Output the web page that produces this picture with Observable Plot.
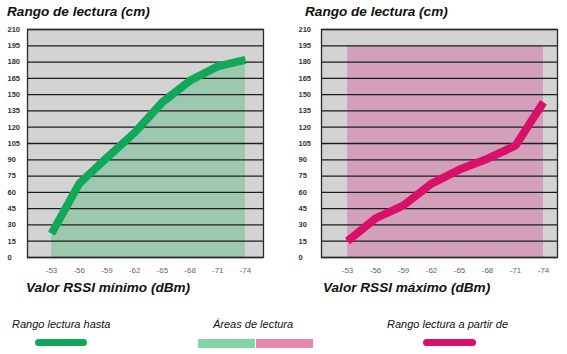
<!DOCTYPE html>
<html>
<head>
<meta charset="utf-8">
<script src="https://cdn.jsdelivr.net/npm/d3@7"></script>
<script src="https://cdn.jsdelivr.net/npm/@observablehq/plot@0.6"></script>
<style>
  body { margin: 0; background: #fff; font-family: "Liberation Sans", Arial, sans-serif; }
  #wrap { position: relative; width: 567px; height: 354px; overflow: hidden; }
  .abs { position: absolute; white-space: nowrap; }
  .title { font-size: 13.6px; font-weight: bold; font-style: italic; color: #111; line-height: 14px; }
  .leg { font-size: 11px; font-style: italic; color: #111; line-height: 12px; }
</style>
</head>
<body>
<div id="wrap">
  <div id="left" class="abs" style="left:0;top:0;"></div>
  <div id="right" class="abs" style="left:280px;top:0;"></div>
  <div class="abs title" style="left:7px;top:5px;">Rango de lectura (cm)</div>
  <div class="abs title" style="left:305px;top:5px;">Rango de lectura (cm)</div>
  <div class="abs title" style="left:26px;top:281px;">Valor RSSI mínimo (dBm)</div>
  <div class="abs title" style="left:323px;top:281px;">Valor RSSI máximo (dBm)</div>
  <div class="abs leg" style="left:12px;top:318px;">Rango lectura hasta</div>
  <div class="abs leg" style="left:213px;top:318px;">Áreas de lectura</div>
  <div class="abs leg" style="left:387px;top:318px;">Rango lectura a partir de</div>
  <div class="abs" style="left:35px;top:339px;width:52px;height:7px;border-radius:4px;background:#12a85a;"></div>
  <div class="abs" style="left:198px;top:339px;width:57px;height:9px;background:#80d6a9;"></div>
  <div class="abs" style="left:256px;top:339px;width:57px;height:9px;background:#ea86b0;"></div>
  <div class="abs" style="left:423px;top:339px;width:53px;height:7px;border-radius:4px;background:#d8106a;"></div>
</div>
<script>
// ---- data ----
const rssiMin = [-53, -56, -59, -62, -65, -68, -71, -74];
const rangeUpTo = [22, 68, 92, 115, 143, 163, 176, 182];
const rssiMax = [-53, -56, -59, -62, -65, -68, -71, -74];
const rangeFrom = [15, 36, 48, 68, 81, 91, 103, 143];
const areaTopMax = 195;
const yTicks = [0, 15, 30, 45, 60, 75, 90, 105, 120, 135, 150, 165, 180, 195, 210];
const xTickLabels = [-53, -56, -59, -62, -65, -68, -71, -74];

const minData = rssiMin.map((x, i) => ({x, y: rangeUpTo[i]}));
const maxData = rssiMax.map((x, i) => ({x, y: rangeFrom[i]}));
const rectData = [{x1: rssiMax[0], x2: rssiMax[rssiMax.length - 1], y: areaTopMax}];

const font = '"Liberation Sans", Arial, sans-serif';

function chart({width, marginLeft, marginRight, xDomain, areaMarks, lineData, lineColor, labelDx}) {
  return Plot.plot({
    width, height: 280,
    marginLeft, marginRight, marginTop: 29, marginBottom: 23,
    style: {fontFamily: font, background: "transparent", overflow: "visible"},
    x: {domain: xDomain, reverse: true, axis: null},
    y: {domain: [0, 210], axis: null},
    marks: [
      Plot.frame({fill: "#d3d3d3", stroke: null}),
      ...areaMarks,
      Plot.ruleY(yTicks, {stroke: "#1e1e1e", strokeWidth: 1.3}),
      Plot.frame({stroke: "#2a2a2a", strokeWidth: 1.3}),
      Plot.line(lineData, {x: "x", y: "y", stroke: lineColor, strokeWidth: 8, strokeLinecap: "butt", strokeLinejoin: "round"}),
      Plot.text(yTicks, {y: d => d, frameAnchor: "left", dx: labelDx, textAnchor: "start", fontSize: 7.5, fill: "#333", fontWeight: "bold"}),
      Plot.axisX(xTickLabels, {tickSize: 0, tickPadding: 10, fontSize: 8, fill: "#666", label: null, tickFormat: d => String(d)})
    ]
  });
}

document.getElementById("left").append(chart({
  width: 283, marginLeft: 27, marginRight: 20,
  xDomain: [-75.95, -50.4],
  areaMarks: [Plot.areaY(minData, {x: "x", y: "y", fill: "#9cc9ae"})],
  lineData: minData, lineColor: "#12a85a", labelDx: -20
}));

document.getElementById("right").append(chart({
  width: 287, marginLeft: 41, marginRight: 10,
  xDomain: [-75.5, -50.21],
  areaMarks: [Plot.rectY(rectData, {x1: "x1", x2: "x2", y1: () => 0, y2: "y", fill: "#d3a0bb"})],
  lineData: maxData, lineColor: "#d8106a", labelDx: -23
}));
</script>
</body>
</html>
